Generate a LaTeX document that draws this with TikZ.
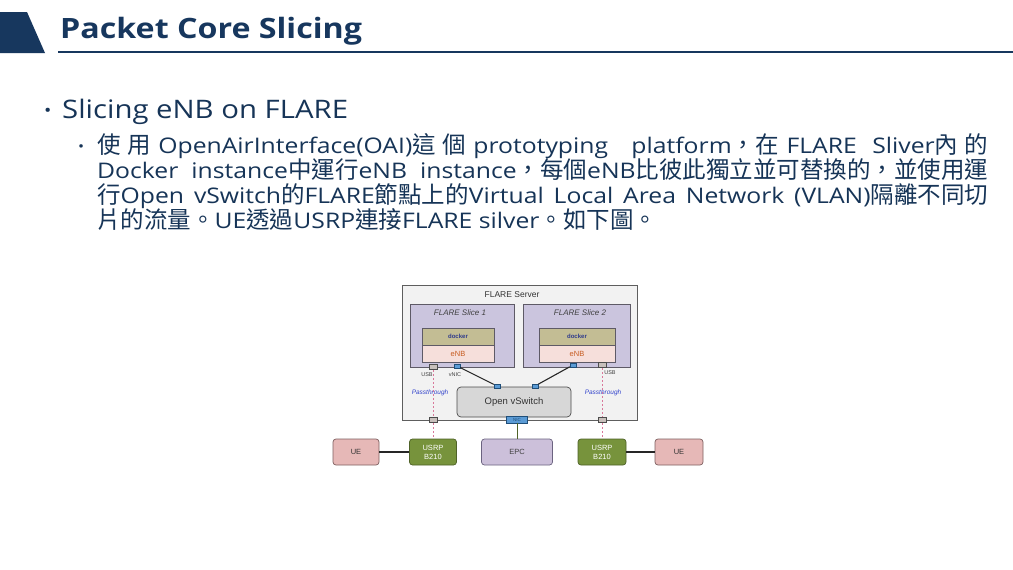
\documentclass[tikz,border=0pt]{standalone}
\usepackage{fontspec}
\setmainfont{Open Sans}[FakeStretch=1.15]
\newfontfamily\cjk{Noto Sans CJK TC}
\newfontfamily\dg{Liberation Sans}
\newcommand\zh[1]{{\cjk\fontsize{23.5}{25}\selectfont #1}}
\definecolor{navy}{HTML}{17375E}
\definecolor{bodytxt}{HTML}{163457}
\definecolor{srvfill}{HTML}{F2F2F2}
\definecolor{srvdraw}{HTML}{5E5E5E}
\definecolor{slicefill}{HTML}{CBC5DE}
\definecolor{slicedraw}{HTML}{5E5A66}
\definecolor{dockerfill}{HTML}{C3BD94}
\definecolor{dockertxt}{HTML}{2E3A8C}
\definecolor{enbfill}{HTML}{F6DFDB}
\definecolor{enbtxt}{HTML}{C65A1E}
\definecolor{portblue}{HTML}{5B9BD5}
\definecolor{portdraw}{HTML}{1F4E79}
\definecolor{usbgray}{HTML}{C8C0BC}
\definecolor{vswfill}{HTML}{D7D7D7}
\definecolor{uefill}{HTML}{E6B8B7}
\definecolor{uedraw}{HTML}{7F6060}
\definecolor{usrpfill}{HTML}{77933C}
\definecolor{usrpdraw}{HTML}{4F6228}
\definecolor{epcfill}{HTML}{CCC0DA}
\definecolor{epcdraw}{HTML}{6B6380}
\definecolor{pinkdash}{HTML}{D9789A}
\definecolor{passblue}{HTML}{3344CC}
\definecolor{olive}{HTML}{4F6228}
\begin{document}
\begin{tikzpicture}[x=1pt,y=-1pt,
  txt/.style={anchor=base west, inner sep=0pt, text=bodytxt},
  box/.style={rectangle, inner sep=0pt, line width=0.7pt},
  slicebox/.style={box, draw=slicedraw, fill=slicefill},
  dockerbox/.style={box, draw=slicedraw, fill=dockerfill, minimum height=17pt, text=dockertxt, font=\dg\fontsize{6}{7}\selectfont\bfseries},
  enbbox/.style={box, draw=slicedraw, fill=enbfill, minimum height=17pt, text=enbtxt, font=\dg\fontsize{7.5}{8}\selectfont},
  vnic/.style={box, draw=portdraw, fill=portblue, minimum width=6pt, minimum height=4.5pt, line width=0.5pt},
  usb/.style={box, draw=black!70, fill=usbgray, minimum width=8pt, minimum height=5pt, line width=0.5pt},
  tiny/.style={inner sep=0pt, font=\dg\fontsize{5.5}{6}\selectfont, text=black!75},
  pass/.style={inner sep=0pt, font=\dg\fontsize{6.5}{7}\selectfont\itshape, text=passblue},
  bottombox/.style={box, rounded corners=3pt, minimum height=26pt, font=\dg\fontsize{7.5}{9}\selectfont, align=center},
  uebox/.style={bottombox, draw=uedraw, fill=uefill, text=black!80},
  usrpbox/.style={bottombox, draw=usrpdraw, fill=usrpfill, text=white},
  epcbox/.style={bottombox, draw=epcdraw, fill=epcfill, text=black!75},
  wire/.style={line width=1.1pt, draw=black!85},
  pinkwire/.style={line width=1pt, draw=pinkdash, dash pattern=on 2.5pt off 1.5pt}
]
\useasboundingbox (0,0) rectangle (1013,570);
\fill[white] (0,0) rectangle (1013,570);

% ---- title ----
\fill[navy] (0,12) -- (27,12) -- (45,53) -- (0,53) -- cycle;
\draw[navy, line width=2pt] (58,52) -- (1013,52);
\node[txt, text=navy, font=\fontsize{28}{32}\selectfont\bfseries] (title) at (60,38) {Packet Core Slicing};

% ---- bullets ----
\node[txt, font=\fontsize{17}{20}\selectfont] (b1) at (44,116) {•};
\node[txt, font=\fontsize{25.5}{30}\selectfont] (t1) at (62,118) {Slicing eNB on FLARE};

\node[txt, font=\fontsize{14}{16}\selectfont] (b2) at (78,151) {•};
\begin{scope}[every node/.append style={font=\fontsize{21.5}{25}\selectfont}]
\node[txt] (l1) at (97,153) {\makebox[891pt][s]{\zh{使 用} OpenAirInterface(OAI)\zh{這 個} prototyping \ \ platform\zh{，在} FLARE \ Sliver\zh{內 的}}};
\node[txt] (l2) at (97,178) {\makebox[891pt][s]{Docker instance\zh{中運行}eNB instance\zh{，每個}eNB\zh{比彼此獨立並可替換的，並使用運}}};
\node[txt] (l3) at (97,203) {\makebox[891pt][s]{\zh{行}Open vSwitch\zh{的}FLARE\zh{節點上的}Virtual Local Area Network (VLAN)\zh{隔離不同切}}};
\node[txt] (l4) at (97,228) {\zh{片的流量。}UE\zh{透過}USRP\zh{連接}FLARE silver\zh{。如下圖。}};
\end{scope}

% ---- diagram ----
\node[box, draw=srvdraw, fill=srvfill, minimum width=235pt, minimum height=135pt] (srv) at (519.5,352.5) {};
\node[inner sep=0pt, font=\dg\fontsize{8.5}{9}\selectfont, text=black!80] (srvlbl) at (512,295) {FLARE Server};

\node[slicebox, minimum width=104pt, minimum height=63pt] (s1) at (462,335.5) {};
\node[slicebox, minimum width=107pt, minimum height=63pt] (s2) at (576.5,335.5) {};
\node[inner sep=0pt, font=\dg\fontsize{8}{9}\selectfont\itshape, text=black!75] (s1lbl) at (460,313) {FLARE Slice 1};
\node[inner sep=0pt, font=\dg\fontsize{8}{9}\selectfont\itshape, text=black!75] (s2lbl) at (580,313) {FLARE Slice 2};

\node[dockerbox, minimum width=72pt] (d1) at (458,336.5) {docker};
\node[enbbox, minimum width=72pt] (e1) at (458,353.5) {eNB};
\node[dockerbox, minimum width=76pt] (d2) at (577,336.5) {docker};
\node[enbbox, minimum width=76pt] (e2) at (577,353.5) {eNB};

\node[box, draw=black!70, fill=vswfill, rounded corners=4pt, minimum width=114pt, minimum height=30pt, font=\dg\fontsize{9.5}{10}\selectfont, text=black!80] (vsw) at (514,402) {Open vSwitch};

\node[usb] (usb1) at (433,367) {};
\node[vnic] (vnic1) at (457,366) {};
\node[vnic] (vnic2) at (573,365) {};
\node[usb] (usb2) at (602,365) {};
\node[tiny] (usb1lbl) at (427,374.5) {USB};
\node[tiny] (vnic1lbl) at (455,374.5) {vNIC};
\node[tiny] (usb2lbl) at (610,372.5) {USB};

\node[vnic] (pa) at (497,386) {};
\node[vnic] (pb) at (535,386) {};
\draw[wire] (vnic1) -- (pa);
\draw[wire] (vnic2) -- (pb);

\node[usb] (sq1) at (433,420) {};
\node[usb] (sq2) at (602,420) {};
\node[box, draw=portdraw, fill=portblue, minimum width=21pt, minimum height=7pt, font=\dg\fontsize{4.5}{5}\selectfont, text=portdraw, line width=0.5pt] (nic) at (517,419.5) {NIC};

\node[pass] (pass1) at (430,393) {Passthrough};
\node[pass] (pass2) at (603,393) {Passthrough};

\node[uebox, minimum width=46pt] (ue1) at (356,452) {UE};
\node[usrpbox, minimum width=47pt] (usrp1) at (433,452) {USRP\\B210};
\node[epcbox, minimum width=71pt] (epc) at (517,452) {EPC};
\node[usrpbox, minimum width=48pt] (usrp2) at (602,452) {USRP\\B210};
\node[uebox, minimum width=48pt] (ue2) at (679,452) {UE};

\draw[pinkwire] (usb1.south) -- (sq1.north);
\draw[pinkwire] (sq1.south) -- (usrp1.north);
\draw[pinkwire] (usb2.south) -- (sq2.north);
\draw[pinkwire] (sq2.south) -- (usrp2.north);
\draw[line width=1pt, olive] (nic.south) -- (epc.north);
\draw[wire] (ue1) -- (usrp1);
\draw[wire] (usrp2) -- (ue2);
\end{tikzpicture}
\end{document}
